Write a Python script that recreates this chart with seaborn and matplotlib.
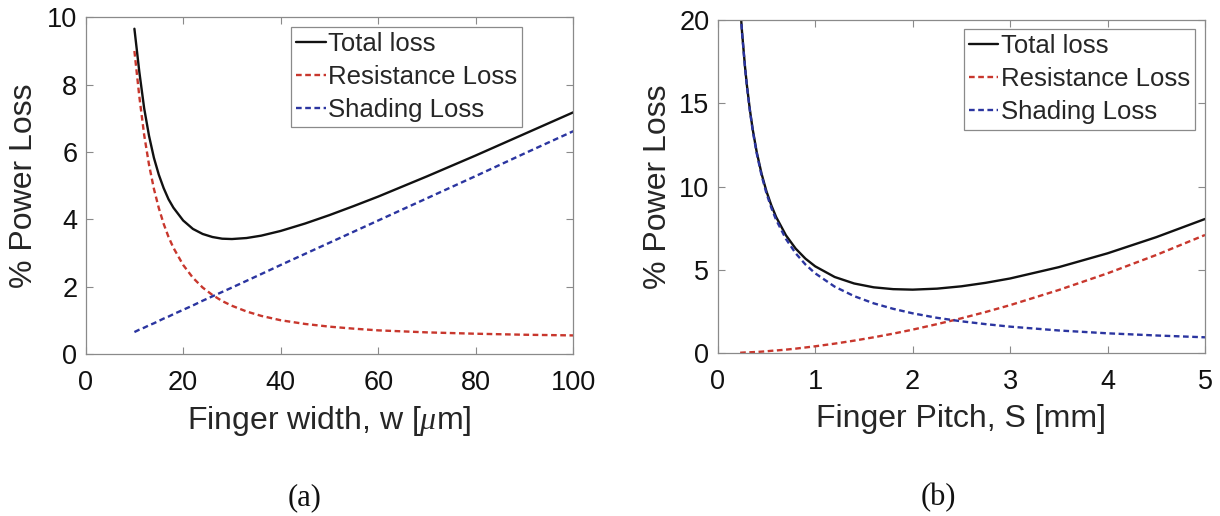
import numpy as np
import pandas as pd
import matplotlib
matplotlib.use("Agg")
import matplotlib.pyplot as plt
import seaborn as sns

# ---------------- data ----------------
# Panel (a): finger width w [um]
width_um = [10, 11, 12, 13, 14, 15, 16, 17, 18, 20, 22, 24, 26, 28, 30, 33, 36,
            40, 45, 50, 55, 60, 70, 80, 90, 100]
width_total = [9.66, 8.39, 7.30, 6.48, 5.83, 5.33, 4.93, 4.60, 4.35, 3.97, 3.72,
               3.57, 3.48, 3.43, 3.42, 3.45, 3.52, 3.66, 3.88, 4.13, 4.40, 4.68,
               5.28, 5.90, 6.54, 7.18]
width_resist = [9.00, 7.66, 6.51, 5.62, 4.91, 4.34, 3.87, 3.48, 3.16, 2.65, 2.27,
                1.98, 1.76, 1.58, 1.44, 1.27, 1.14, 1.01, 0.90, 0.82, 0.76, 0.71,
                0.65, 0.61, 0.58, 0.56]
width_shade = [0.66, 0.73, 0.79, 0.86, 0.92, 0.99, 1.06, 1.12, 1.19, 1.32, 1.45,
               1.59, 1.72, 1.85, 1.98, 2.18, 2.38, 2.65, 2.98, 3.31, 3.64, 3.97,
               4.63, 5.29, 5.96, 6.62]

# Panel (b): finger pitch S [mm]
pitch_mm = [0.23, 0.25, 0.28, 0.30, 0.33, 0.36, 0.40, 0.45, 0.50, 0.55, 0.60, 0.70,
            0.80, 0.90, 1.00, 1.20, 1.40, 1.60, 1.80, 2.00, 2.25, 2.50, 2.75, 3.00,
            3.50, 4.00, 4.50, 5.00]
pitch_total = [20.90, 19.24, 17.19, 16.05, 14.61, 13.40, 12.08, 10.77, 9.72, 8.88,
               8.17, 7.08, 6.28, 5.68, 5.22, 4.58, 4.19, 3.96, 3.85, 3.82, 3.88,
               4.02, 4.23, 4.49, 5.17, 6.00, 6.97, 8.06]
pitch_resist = [0.03, 0.04, 0.05, 0.05, 0.06, 0.07, 0.08, 0.10, 0.12, 0.15, 0.17,
                0.22, 0.28, 0.35, 0.42, 0.58, 0.76, 0.96, 1.18, 1.42, 1.75, 2.10,
                2.48, 2.89, 3.80, 4.80, 5.90, 7.10]
pitch_shade = [20.87, 19.20, 17.14, 16.00, 14.55, 13.33, 12.00, 10.67, 9.60, 8.73,
               8.00, 6.86, 6.00, 5.33, 4.80, 4.00, 3.43, 3.00, 2.67, 2.40, 2.13,
               1.92, 1.75, 1.60, 1.37, 1.20, 1.07, 0.96]

series_labels = ["Total loss", "Resistance Loss", "Shading Loss"]
x_labels = ["Finger width, w [$\\mu$m]", "Finger Pitch, S [mm]"]
y_label = "% Power Loss"
captions = ["(a)", "(b)"]
width_ticks = [0, 20, 40, 60, 80, 100]
width_yticks = [0, 2, 4, 6, 8, 10]
pitch_ticks = [0, 1, 2, 3, 4, 5]
pitch_yticks = [0, 5, 10, 15, 20]

# ---------------- style ----------------
sns.set_theme(style="white")
plt.rcParams["font.family"] = ["Liberation Sans", "DejaVu Sans"]
plt.rcParams["mathtext.fontset"] = "custom"
plt.rcParams["mathtext.it"] = "Liberation Serif:italic"
plt.rcParams["mathtext.rm"] = "Liberation Sans"

COL_TOTAL = "#111111"
COL_RES = "#c8372d"
COL_SHD = "#2b35a0"
EDGE = "#8a8a8a"

fig = plt.figure(figsize=(12.2, 5.16), dpi=100)
ax1 = fig.add_axes([0.0702, 0.3134, 0.3997, 0.6531])
ax2 = fig.add_axes([0.5883, 0.3153, 0.3994, 0.6459])


def draw(ax, x, tot, res, shd):
    df = pd.DataFrame({"x": x, "tot": tot, "res": res, "shd": shd})
    sns.lineplot(data=df, x="x", y="tot", ax=ax, color=COL_TOTAL, lw=1.7,
                 label=series_labels[0])
    sns.lineplot(data=df, x="x", y="res", ax=ax, color=COL_RES, lw=1.7,
                 linestyle=(0, (2.4, 1.5)), label=series_labels[1])
    sns.lineplot(data=df, x="x", y="shd", ax=ax, color=COL_SHD, lw=1.7,
                 linestyle=(0, (2.4, 1.5)), label=series_labels[2])


draw(ax1, width_um, width_total, width_resist, width_shade)
draw(ax2, pitch_mm, pitch_total, pitch_resist, pitch_shade)

setups = [
    (ax1, x_labels[0], width_ticks, width_yticks, (0, 100), (0, 10),
     (0.421, 0.971), (-0.096, 0.5), (0.5, -0.1475)),
    (ax2, x_labels[1], pitch_ticks, pitch_yticks, (0, 5), (0, 20),
     (0.505, 0.972), (-0.091, 0.5), (0.5, -0.152)),
]
for ax, xl, xt, yt, xlim, ylim, leg_anchor, ylab_pos, xlab_pos in setups:
    ax.set_xlim(*xlim)
    ax.set_ylim(*ylim)
    ax.set_xticks(xt)
    ax.set_yticks(yt)
    ax.set_xticklabels([str(v) for v in xt])
    ax.set_yticklabels([str(v) for v in yt])
    ax.set_xlabel(xl, fontsize=23)
    ax.set_ylabel(y_label, fontsize=23)
    ax.xaxis.set_label_coords(*xlab_pos)
    ax.yaxis.set_label_coords(*ylab_pos)
    ax.tick_params(axis="both", which="major", direction="in", length=5,
                   width=0.8, color=EDGE, labelsize=19.5,
                   top=True, right=True, bottom=True, left=True, labelcolor="#111111")
    ax.tick_params(axis="x", pad=11)
    ax.tick_params(axis="y", pad=6)
    for sp in ax.spines.values():
        sp.set_visible(True)
        sp.set_color(EDGE)
        sp.set_linewidth(0.9)
    ax.set_facecolor("white")
    leg = ax.legend(loc="upper left", bbox_to_anchor=leg_anchor, borderaxespad=0,
                    fontsize=18.5, handlelength=1.15, handletextpad=0.1,
                    labelspacing=0.35, borderpad=0.2, frameon=True, fancybox=False,
                    framealpha=1, edgecolor=EDGE)
    leg.get_frame().set_linewidth(0.9)

fig.text(0.25, 0.035, captions[0], ha="center", va="center", fontsize=22,
         family=["Liberation Serif", "DejaVu Serif"], color="#111111")
fig.text(0.769, 0.035, captions[1], ha="center", va="center", fontsize=22,
         family=["Liberation Serif", "DejaVu Serif"], color="#111111")

fig.savefig("out.png", dpi=100, facecolor="white")
